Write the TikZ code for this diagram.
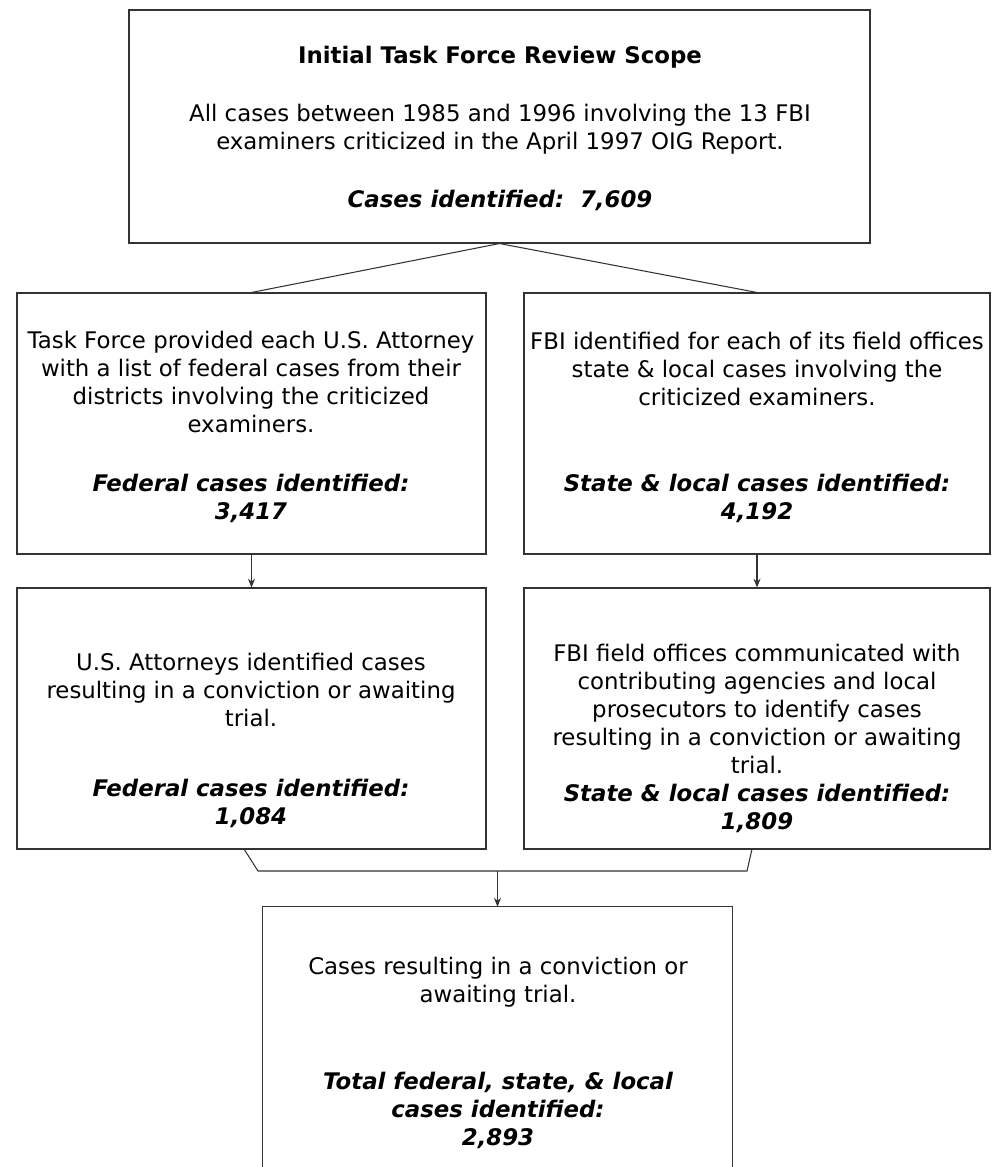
\documentclass[tikz,border=0pt]{standalone}
\usepackage{fontspec}
\setmainfont{DejaVu Sans}
\usetikzlibrary{fit,arrows.meta}
\begin{document}
\begin{tikzpicture}[x=0.02cm,y=-0.02cm,
  box/.style={draw=black!80,line width=0.6pt,inner sep=0pt},
  frame/.style={inner sep=0pt},
  txt/.style={align=center,inner sep=0pt,font=\fontsize{13}{15.9}\selectfont},
  em/.style={txt,font=\fontsize{13}{15.9}\selectfont\bfseries\itshape},
  conn/.style={draw=black!80,line width=0.6pt},
  arr/.style={conn,-{Stealth[length=5pt,width=4pt]}}]
\useasboundingbox (0,0) rectangle (992,1167);
\fill[white] (0,0) rectangle (992,1167);
% boxes
\node[box,fit={(129,10) (870,243)}] (top) {};
\node[box,fit={(17,293) (486,554)}] (ml) {};
\node[box,fit={(524,293) (990,554)}] (mr) {};
\node[box,fit={(17,588) (486,849)}] (ll) {};
\node[box,fit={(524,588) (990,849)}] (lr) {};
\node[frame,fit={(263,907) (732,1167)}] (bot) {};
\draw[conn] (bot.south west) -- (bot.north west) -- (bot.north east) -- (bot.south east);
% top texts
\node[txt,font=\fontsize{13}{15.9}\selectfont\bfseries] (t1) at (500,57) {Initial Task Force Review Scope};
\node[txt] (t2) at (500,129) {All cases between 1985 and 1996 involving the 13 FBI\\examiners criticized in the April 1997 OIG Report.};
\node[em] (t3) at (500,200) {Cases identified:\ \ 7,609};
% middle left
\node[txt] (ml1) at (251,382) {Task Force provided each U.S. Attorney\\with a list of federal cases from their\\districts involving the criticized\\examiners.};
\node[em] (ml2) at (251,498) {Federal cases identified:\\3,417};
% middle right
\node[txt] (mr1) at (757,369) {FBI identified for each of its field offices\\state \& local cases involving the\\criticized examiners.};
\node[em] (mr2) at (757,498) {State \& local cases identified:\\4,192};
% lower left
\node[txt] (ll1) at (251,690) {U.S. Attorneys identified cases\\resulting in a conviction or awaiting\\trial.};
\node[em] (ll2) at (251,803) {Federal cases identified:\\1,084};
% lower right
\node[txt] (lr1) at (757,709) {FBI field offices communicated with\\contributing agencies and local\\prosecutors to identify cases\\resulting in a conviction or awaiting\\trial.};
\node[em] (lr2) at (757,808) {State \& local cases identified:\\1,809};
% bottom
\node[txt] (b1) at (498,982) {Cases resulting in a conviction or\\awaiting trial.};
\node[em] (b2) at (498,1110) {Total federal, state, \& local\\cases identified:\\2,893};
% connectors
\draw[conn] (ml.north) -- (top.south) -- (mr.north);
\draw[arr] (ml.south) -- (ll.north);
\draw[arr] (mr.south) -- (lr.north);
\coordinate (k1) at (244,849);
\coordinate (k2) at (258,871);
\coordinate (k3) at (747,871);
\coordinate (k4) at (752,849);
\coordinate (km) at (bot.north |- k2);
\draw[conn] (k1) -- (k2) -- (k3) -- (k4);
\draw[arr] (km) -- (bot.north);
\end{tikzpicture}
\end{document}
